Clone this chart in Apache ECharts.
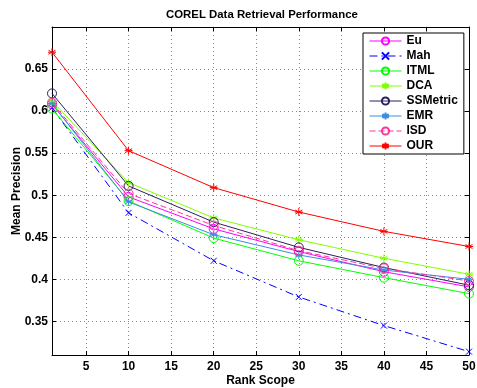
<!DOCTYPE html>
<html>
<head>
<meta charset="utf-8">
<script src="https://cdn.jsdelivr.net/npm/echarts@6/dist/echarts.min.js"></script>
<style>
  html, body { margin: 0; padding: 0; background: #fff; }
  #chart { width: 477px; height: 388px; }
</style>
</head>
<body>
<div id="chart"></div>
<script>
// rank scope (x) and mean precision per method
const rankScope = [1, 10, 20, 30, 40, 50];
const eu = [0.608, 0.498, 0.460, 0.433, 0.409, 0.391];
const mah = [0.604, 0.479, 0.422, 0.379, 0.345, 0.314];
const itml = [0.603, 0.493, 0.449, 0.422, 0.402, 0.383];
const dca = [0.612, 0.515, 0.473, 0.447, 0.425, 0.406];
const ssmetric = [0.621, 0.511, 0.468, 0.438, 0.414, 0.393];
const emr = [0.609, 0.492, 0.453, 0.429, 0.411, 0.400];
const isd = [0.610, 0.502, 0.464, 0.434, 0.413, 0.398];
const our = [0.670, 0.553, 0.509, 0.480, 0.457, 0.439];

const xTicks = [5, 10, 15, 20, 25, 30, 35, 40, 45, 50];
const yTicks = [0.35, 0.4, 0.45, 0.5, 0.55, 0.6, 0.65];

const FONT = 'Liberation Sans, Arial, sans-serif';
// matlab-like markers
const CIRCLE = 'path://M1,0A1,1 0 1,1 -1,0A1,1 0 1,1 1,0Z';
const STAR = 'path://M0,-1L0,1M-0.87,-0.5L0.87,0.5M-0.87,0.5L0.87,-0.5M-1,0L1,0';
const CROSS = 'path://M-1,-1L1,1M-1,1L1,-1';

function mk(name, data, color, symbol, lineType, size) {
  return {
    name,
    type: 'line',
    data: rankScope.map((x, i) => [x, data[i]]),
    symbol,
    symbolSize: size,
    xAxisIndex: 0,
    yAxisIndex: 0,
    color,
    lineStyle: { color, width: 1, type: lineType },
    itemStyle: symbol === CIRCLE
      ? { color: 'rgba(0,0,0,0)', borderColor: color, borderWidth: 1 }
      : { color, borderColor: color, borderWidth: 1 },
    emphasis: { disabled: true },
    animation: false,
    z: 3,
  };
}

const series = [
  mk('Eu', eu, '#ff00ff', CIRCLE, 'solid', 9),
  mk('Mah', mah, '#0000ff', CROSS, [8, 4, 2, 4], 6),
  mk('ITML', itml, '#00ff00', CIRCLE, 'solid', 9),
  mk('DCA', dca, '#80ff00', STAR, 'solid', 8),
  mk('SSMetric', ssmetric, '#2d1e5e', CIRCLE, 'solid', 9),
  mk('EMR', emr, '#3a8ee0', STAR, 'solid', 8),
  mk('ISD', isd, '#ff3399', CIRCLE, [6, 3], 9),
  mk('OUR', our, '#ff0000', STAR, 'solid', 8),
];

const tickStyle = { inside: true, length: 4, lineStyle: { color: '#000', width: 1 } };
const gridLine = { show: true, lineStyle: { color: '#888', type: [1, 3], width: 1 } };

const chart = echarts.init(document.getElementById('chart'), null, { renderer: 'canvas' });
chart.setOption({
  backgroundColor: '#fff',
  animation: false,
  title: {
    text: 'COREL Data Retrieval Performance',
    left: 161,
    top: 4,
    textStyle: { fontFamily: FONT, fontSize: 11.4, fontWeight: 'bold', color: '#000' },
  },
  grid: { left: 52, right: 8, top: 27, bottom: 33, outerBoundsMode: 'none', containLabel: false },
  legend: {
    orient: 'vertical',
    left: 363,
    top: 33,
    width: 90,
    padding: [1, 6, 1, 6],
    itemGap: 1,
    itemWidth: 32,
    itemHeight: 9,
    backgroundColor: '#fff',
    borderColor: '#000',
    borderWidth: 1,
    lineStyle: { width: 1 },
    textStyle: { fontFamily: FONT, fontSize: 12, fontWeight: 'bold', color: '#000', lineHeight: 14 },
    data: series.map((s) => s.name),
  },
  xAxis: [
    {
      type: 'value',
      min: 1,
      max: 50,
      name: 'Rank Scope',
      nameLocation: 'middle',
      nameGap: 20,
      nameMoveOverlap: false,
      nameTextStyle: { fontFamily: FONT, fontSize: 12, fontWeight: 'bold', color: '#000' },
      axisLine: { lineStyle: { color: '#000', width: 1 } },
      axisTick: { ...tickStyle, customValues: xTicks },
      axisLabel: { customValues: xTicks, fontFamily: FONT, fontSize: 12, fontWeight: 'bold', color: '#000', margin: 6 },
      splitLine: { ...gridLine, customValues: xTicks },
    },
    {
      type: 'value',
      position: 'top',
      min: 1,
      max: 50,
      axisLine: { lineStyle: { color: '#000', width: 1 } },
      axisTick: { ...tickStyle, customValues: xTicks },
      axisLabel: { show: false },
      splitLine: { show: false },
    },
  ],
  yAxis: [
    {
      type: 'value',
      min: 0.31,
      max: 0.70,
      name: 'Mean Precision',
      nameLocation: 'middle',
      nameGap: 29,
      nameMoveOverlap: false,
      nameTextStyle: { fontFamily: FONT, fontSize: 12, fontWeight: 'bold', color: '#000' },
      axisLine: { show: true, lineStyle: { color: '#000', width: 1 } },
      axisTick: { ...tickStyle, customValues: yTicks },
      axisLabel: {
        customValues: yTicks,
        fontFamily: FONT,
        fontSize: 12,
        fontWeight: 'bold',
        color: '#000',
        margin: 4,
        formatter: (v) => String(+v.toFixed(2)),
      },
      splitLine: { ...gridLine, customValues: yTicks },
    },
    {
      type: 'value',
      position: 'right',
      min: 0.31,
      max: 0.70,
      axisLine: { show: true, lineStyle: { color: '#000', width: 1 } },
      axisTick: { ...tickStyle, customValues: yTicks },
      axisLabel: { show: false },
      splitLine: { show: false },
    },
  ],
  series,
});
</script>
</body>
</html>
